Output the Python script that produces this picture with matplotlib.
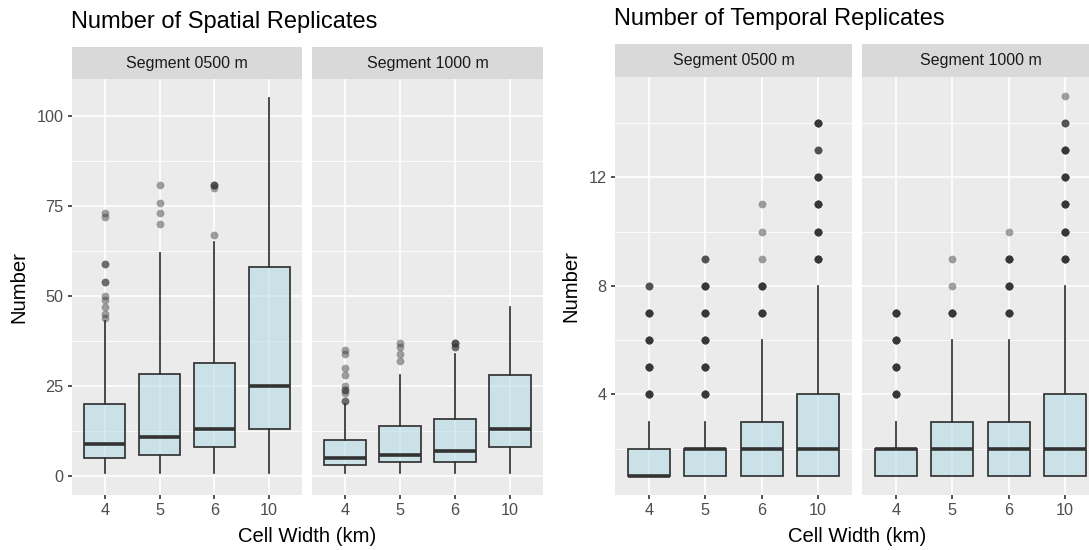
import matplotlib.pyplot as plt
import numpy as np

plt.rcParams['font.family'] = ['Liberation Sans', 'DejaVu Sans']

cell_widths = ["4", "5", "6", "10"]
segments = ["Segment 0500 m", "Segment 1000 m"]

# Spatial replicates, segment 0500 m
sp500_low = [1, 1, 1, 1]
sp500_q1 = [5, 6, 8, 13]
sp500_med = [9, 11, 13, 25]
sp500_q3 = [20, 28.5, 31.5, 58]
sp500_high = [43, 62, 65, 105]
sp500_out = [[44, 45, 47, 49, 50, 54, 59, 72, 73], [70, 73, 76, 81], [67, 80, 81], []]
sp500_out_n = [[1, 1, 1, 1, 1, 2, 2, 1, 1], [1, 1, 1, 1], [1, 1, 3], []]

# Spatial replicates, segment 1000 m
sp1000_low = [1, 1, 1, 1]
sp1000_q1 = [3, 4, 4, 8]
sp1000_med = [5, 6, 7, 13]
sp1000_q3 = [10, 14, 16, 28]
sp1000_high = [20, 28, 34, 47]
sp1000_out = [[21, 23, 24, 25, 28, 30, 34, 35], [32, 34, 36, 37], [36, 37], []]
sp1000_out_n = [[2, 1, 2, 1, 1, 1, 1, 1], [1, 1, 1, 1], [2, 3], []]

# Temporal replicates, segment 0500 m
tp500_low = [1, 1, 1, 1]
tp500_q1 = [1, 1, 1, 1]
tp500_med = [1, 2, 2, 2]
tp500_q3 = [2, 2, 3, 4]
tp500_high = [3, 3, 6, 8]
tp500_out = [[4, 5, 6, 7, 8], [4, 5, 6, 7, 8, 9], [7, 8, 9, 10, 11], [9, 10, 11, 12, 13, 14]]
tp500_out_n = [[6, 6, 6, 6, 3], [6, 6, 6, 6, 6, 3], [6, 6, 1, 1, 1], [6, 6, 6, 6, 3, 6]]

# Temporal replicates, segment 1000 m
tp1000_low = [1, 1, 1, 1]
tp1000_q1 = [1, 1, 1, 1]
tp1000_med = [2, 2, 2, 2]
tp1000_q3 = [2, 3, 3, 4]
tp1000_high = [3, 6, 6, 8]
tp1000_out = [[4, 5, 6, 7], [7, 8, 9], [7, 8, 9, 10], [9, 10, 11, 12, 13, 14, 15]]
tp1000_out_n = [[6, 6, 6, 6], [6, 1, 1], [6, 6, 6, 1], [6, 6, 6, 6, 6, 3, 1]]

W, H = 1089, 550
fig = plt.figure(figsize=(W / 100, H / 100), dpi=100)


def px_axes(x0, y0, x1, y1):
    return fig.add_axes([x0 / W, 1 - y1 / H, (x1 - x0) / W, (y1 - y0) / H])


def draw_facet(x0, x1, ys, yb, label, low, q1, med, q3, high, out, out_n,
               ylim, major, minor, show_y):
    # strip
    sax = px_axes(x0, ys, x1, yb)
    sax.set_facecolor('#D9D9D9')
    sax.set_xticks([])
    sax.set_yticks([])
    for s in sax.spines.values():
        s.set_visible(False)
    sax.text(0.5, 0.5, label, ha='center', va='center', fontsize=11.5, color='#1A1A1A',
             transform=sax.transAxes)

    ax = px_axes(x0, yb, x1, 495)
    ax.set_facecolor('#EBEBEB')
    for s in ax.spines.values():
        s.set_visible(False)
    ax.set_axisbelow(True)

    stats = []
    for i in range(len(cell_widths)):
        stats.append(dict(whislo=low[i], q1=q1[i], med=med[i], q3=q3[i], whishi=high[i],
                          fliers=np.repeat(out[i], out_n[i]) if out[i] else []))
    ax.bxp(stats, positions=range(1, 5), widths=0.75, patch_artist=True, showcaps=False,
           boxprops=dict(facecolor=(0.678, 0.847, 0.902, 0.5), edgecolor='#333333', linewidth=1.25),
           medianprops=dict(color='#333333', linewidth=2.6, solid_capstyle='butt'),
           whiskerprops=dict(color='#333333', linewidth=1.25),
           flierprops=dict(marker='o', markerfacecolor='#333333', markeredgecolor='none',
                           alpha=0.45, markersize=5.6))

    ax.set_xlim(0.4, 4.6)
    ax.set_ylim(*ylim)
    ax.set_xticks(range(1, 5))
    ax.set_xticklabels(cell_widths)
    ax.set_yticks(major)
    ax.set_yticks(minor, minor=True)
    ax.grid(which='major', color='white', linewidth=1.2)
    ax.grid(which='minor', axis='y', color='white', linewidth=0.6)
    ax.tick_params(which='major', length=3.2, width=1.2, color='#333333',
                   labelcolor='#4D4D4D', labelsize=11.7, pad=2.8)
    ax.tick_params(which='minor', length=0)
    if not show_y:
        ax.tick_params(axis='y', length=0, labelleft=False)
    return ax


# left chart: spatial
sp_major = [0, 25, 50, 75, 100]
sp_minor = [12.5, 37.5, 62.5, 87.5]
draw_facet(72, 302, 47, 79.3, segments[0], sp500_low, sp500_q1, sp500_med, sp500_q3, sp500_high,
           sp500_out, sp500_out_n, (-5.25, 110.25), sp_major, sp_minor, True)
draw_facet(312, 543, 47, 79.3, segments[1], sp1000_low, sp1000_q1, sp1000_med, sp1000_q3, sp1000_high,
           sp1000_out, sp1000_out_n, (-5.25, 110.25), sp_major, sp_minor, False)

# right chart: temporal
tp_major = [4, 8, 12]
tp_minor = [2, 6, 10, 14]
draw_facet(615, 852, 44, 76.7, segments[0], tp500_low, tp500_q1, tp500_med, tp500_q3, tp500_high,
           tp500_out, tp500_out_n, (0.3, 15.7), tp_major, tp_minor, True)
draw_facet(862, 1099, 44, 76.7, segments[1], tp1000_low, tp1000_q1, tp1000_med, tp1000_q3, tp1000_high,
           tp1000_out, tp1000_out_n, (0.3, 15.7), tp_major, tp_minor, False)

# titles and axis labels
fig.text(71 / W, 1 - 22 / H, "Number of Spatial Replicates", fontsize=17, color='black',
         ha='left', va='center')
fig.text(614 / W, 1 - 19 / H, "Number of Temporal Replicates", fontsize=17, color='black',
         ha='left', va='center')
fig.text(19 / W, 1 - 287 / H, "Number", fontsize=14.6, rotation=90, ha='center', va='center')
fig.text(571 / W, 1 - 286 / H, "Number", fontsize=14.6, rotation=90, ha='center', va='center')
fig.text(307 / W, 1 - 536 / H, "Cell Width (km)", fontsize=14.6, ha='center', va='center')
fig.text(857 / W, 1 - 536 / H, "Cell Width (km)", fontsize=14.6, ha='center', va='center')

fig.savefig('out.png', dpi=100)
